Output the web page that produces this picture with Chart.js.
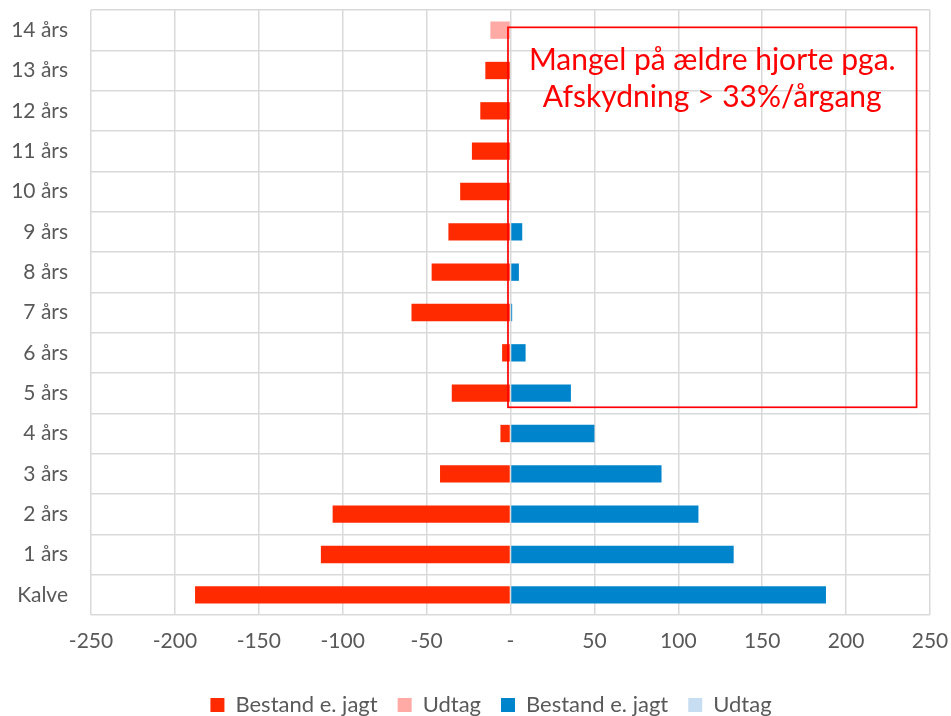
<!DOCTYPE html>
<html>
<head>
<meta charset="utf-8">
<script src="https://cdn.jsdelivr.net/npm/chart.js@4.4.1/dist/chart.umd.min.js"></script>
<style>
  html, body { margin: 0; padding: 0; background: #fff; }
  #wrap { width: 951px; height: 716px; }
</style>
</head>
<body>
<div id="wrap"><canvas id="pyramid"></canvas></div>
<script>
const ageClasses = ["14 års", "13 års", "12 års", "11 års", "10 års", "9 års", "8 års",
  "7 års", "6 års", "5 års", "4 års", "3 års", "2 års", "1 års", "Kalve"];

// left side (negative values)
const bestandLeft = [0, -15, -18, -23, -30, -37, -47, -59, -5, -35, -6, -42, -106, -113, -188];
const udtagLeft   = [-12, 0, 0, 0, 0, 0, 0, 0, 0, 0, 0, 0, 0, 0, 0];

// right side
const bestandRight = [0, 0, 0, 0, 0, 7, 5, 1, 9, 36, 50, 90, 112, 133, 188];
const udtagRight   = [0, 0, 0, 0, 0, 0, 0, 0, 0, 0, 0, 0, 0, 0, 0];

const xTicks = [-250, -200, -150, -100, -50, 0, 50, 100, 150, 200, 250];

const noteLines = ["Mangel på ældre hjorte pga.", "Afskydning > 33%/årgang"];

const FONT = "Lato, 'Liberation Sans', sans-serif";
const TEXT = "#595959";
const GRID = "#d9d9d9";

// nudge the legend to where it sits in the original
const legendShift = {
  id: "legendShift",
  afterLayout(chart) {
    const lg = chart.legend;
    lg.left += 26; lg.right += 26;
    lg.top += 10; lg.bottom += 10;
  }
};

// red box with the note, placed with the chart's own scales
const noteBox = {
  id: "noteBox",
  afterDatasetsDraw(chart) {
    const { ctx, scales: { x, y } } = chart;
    const left = x.getPixelForValue(-1.5);
    const right = x.getPixelForValue(242);
    const top = y.getPixelForValue(-0.07);
    const bottom = y.getPixelForValue(9.35);
    ctx.save();
    ctx.strokeStyle = "#ff0000";
    ctx.lineWidth = 1.7;
    ctx.strokeRect(left, top, right - left, bottom - top);
    ctx.fillStyle = "#ff0000";
    ctx.font = "30px " + FONT;
    ctx.textAlign = "center";
    ctx.textBaseline = "middle";
    const cx = (left + right) / 2;
    ctx.fillText(noteLines[0], cx, top + 33);
    ctx.fillText(noteLines[1], cx, top + 70);
    ctx.restore();
  }
};

// chart.js pads the plot for half a tick label at the ends; the original doesn't
function noEdgePadding(scale) {
  scale.paddingTop = 0;
  scale.paddingBottom = 0;
  scale.paddingLeft = 0;
  scale.paddingRight = 0;
}

new Chart(document.getElementById("pyramid"), {
  type: "bar",
  data: {
    labels: ageClasses,
    datasets: [
      { label: "Bestand e. jagt", data: bestandLeft, backgroundColor: "#ff2a00" },
      { label: "Udtag", data: udtagLeft, backgroundColor: "#ffaaa5" },
      { label: "Bestand e. jagt", data: bestandRight, backgroundColor: "#0085cc" },
      { label: "Udtag", data: udtagRight, backgroundColor: "#c7ddf2" },
    ],
  },
  options: {
    indexAxis: "y",
    responsive: true,
    maintainAspectRatio: false,
    animation: false,
    categoryPercentage: 1,
    barPercentage: 0.43,
    layout: { padding: { top: 10, right: 21, left: 0, bottom: 0 } },
    scales: {
      x: {
        stacked: true,
        min: -250,
        max: 250,
        afterBuildTicks(scale) {
          scale.ticks = xTicks.map((v) => ({ value: v }));
        },
        afterFit(scale) { scale.height = 49; noEdgePadding(scale); },
        grid: { color: GRID, lineWidth: 1.5, drawTicks: false },
        border: { display: false },
        ticks: {
          color: TEXT,
          font: { family: FONT, size: 21 },
          padding: 14,
          callback: (v) => (v === 0 ? "-" : v),
        },
      },
      y: {
        stacked: true,
        afterFit(scale) { scale.width = 91; noEdgePadding(scale); },
        grid: { color: GRID, lineWidth: 1.5, drawTicks: false, offset: true },
        border: { display: false },
        ticks: {
          color: TEXT,
          font: { family: FONT, size: 21 },
          padding: 23,
        },
      },
    },
    plugins: {
      legend: {
        position: "bottom",
        labels: {
          color: TEXT,
          font: { family: FONT, size: 22 },
          boxWidth: 14,
          boxHeight: 14,
          padding: 20,
        },
      },
      tooltip: { enabled: false },
    },
  },
  plugins: [noteBox, legendShift],
});
</script>
</body>
</html>
